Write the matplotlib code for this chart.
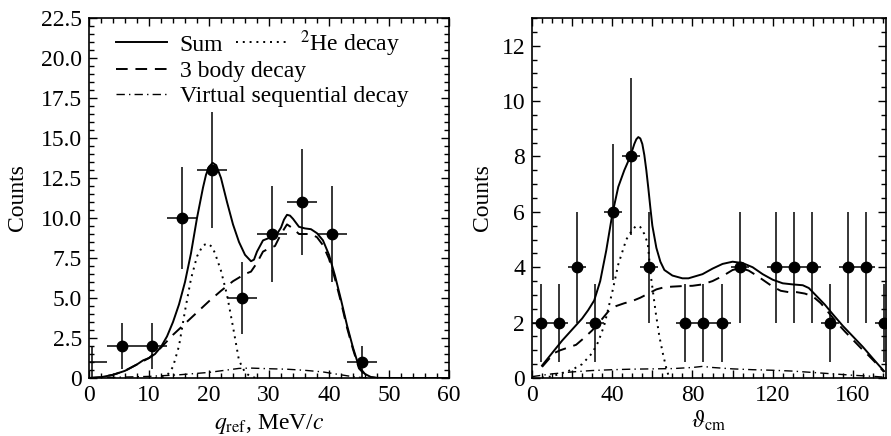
import matplotlib
matplotlib.use("Agg")
import matplotlib.pyplot as plt
from matplotlib.ticker import MultipleLocator, FuncFormatter
from matplotlib.lines import Line2D

plt.rcParams['font.family'] = 'serif'
plt.rcParams['font.serif'] = ['Liberation Serif', 'DejaVu Serif']
plt.rcParams['mathtext.fontset'] = 'stix'
plt.rcParams['font.size'] = 17

# ' Left panel: q_ref spectrum
q_pts = [0.5, 5.5, 10.5, 15.5, 20.5, 25.5, 30.5, 35.5, 40.5, 45.5]
q_counts = [1, 2, 2, 10, 13, 5, 9, 11, 9, 1]
q_err = [1.0, 1.41, 1.41, 3.16, 3.61, 2.24, 3.0, 3.32, 3.0, 1.0]
q_xerr = 2.5

q_sum_x = [0, 2, 4, 6, 8, 9, 10, 11, 12, 13, 14, 15, 16, 17, 18, 19, 19.5, 20, 20.6, 21.2, 22,
           23, 24, 25, 26, 27, 27.5, 28, 29, 30, 31, 32, 32.5, 33, 33.5, 34, 35, 36, 37, 38, 39,
           40, 41, 42, 43, 44, 45, 46, 47, 48, 50, 60]
q_sum_y = [0, 0.05, 0.2, 0.45, 0.85, 1.1, 1.25, 1.5, 1.95, 2.6, 3.5, 4.6, 6.0, 7.8, 10.0, 11.9,
           12.7, 13.2, 13.45, 13.3, 12.5, 11.0, 9.6, 8.5, 7.7, 7.3, 7.4, 7.9, 8.6, 8.75, 8.8,
           9.4, 9.9, 10.2, 10.15, 9.95, 9.45, 9.35, 9.3, 9.05, 8.6, 7.7, 6.4, 4.9, 3.3, 1.9,
           0.7, 0.25, 0.06, 0.01, 0, 0]

q_3b_x = [0, 2, 4, 6, 8, 10, 12, 13, 14, 16, 18, 20, 22, 24, 26, 27, 28, 29, 30, 31, 32, 33,
          34, 35, 36, 37, 38, 39, 40, 41, 42, 43, 44, 45, 46, 47, 48, 60]
q_3b_y = [0, 0.05, 0.2, 0.45, 0.85, 1.25, 1.9, 2.3, 2.7, 3.4, 4.1, 4.8, 5.45, 6.05, 6.5, 6.65,
          7.2, 7.9, 8.1, 8.25, 9.0, 9.6, 9.35, 9.0, 9.0, 9.0, 8.8, 8.3, 7.45, 6.2, 4.75, 3.15,
          1.8, 0.6, 0.2, 0.05, 0, 0]

q_he_x = [11, 12, 13, 14, 15, 16, 17, 18, 19, 19.8, 20.5, 21, 22, 23, 24, 25, 26, 27, 28]
q_he_y = [0, 0.02, 0.15, 0.7, 2.0, 4.2, 6.2, 7.6, 8.3, 8.4, 8.2, 7.8, 6.7, 5.2, 3.2, 1.1, 0.35,
          0.07, 0]

q_vs_x = [0, 5, 10, 15, 20, 23, 25, 27, 30, 33, 36, 39, 42, 44, 46, 60]
q_vs_y = [0, 0.05, 0.1, 0.2, 0.35, 0.5, 0.6, 0.62, 0.58, 0.55, 0.48, 0.38, 0.2, 0.08, 0.01, 0]

# ' Right panel: theta_cm spectrum
t_pts = [4.5, 13.5, 22.5, 31.5, 40.5, 49.5, 58.5, 76.5, 85.5, 94.5, 103.5, 121.5, 130.5,
         139.5, 148.5, 157.5, 166.5, 175.5]
t_counts = [2, 2, 4, 2, 6, 8, 4, 2, 2, 2, 4, 4, 4, 4, 2, 4, 4, 2]
t_err = [1.41, 1.41, 2.0, 1.41, 2.45, 2.83, 2.0, 1.41, 1.41, 1.41, 2.0, 2.0, 2.0, 2.0, 1.41,
         2.0, 2.0, 1.41]
t_xerr = 4.5

t_sum_x = [5, 10, 15, 20, 25, 28, 31, 34, 37, 40, 43, 46, 49, 51, 52, 53, 54, 55, 56, 57, 58,
           59, 60, 62, 64, 66, 70, 75, 78, 85, 90, 95, 100, 105, 110, 115, 120, 125, 130, 135,
           138, 142, 146, 150, 155, 160, 165, 170, 175.5]
t_sum_y = [0.45, 0.9, 1.35, 1.75, 2.15, 2.45, 2.8, 3.5, 4.6, 5.9, 6.9, 7.5, 8.0, 8.45, 8.62,
           8.7, 8.65, 8.45, 8.05, 7.5, 6.85, 6.15, 5.5, 4.7, 4.2, 3.9, 3.7, 3.6, 3.6, 3.75,
           3.95, 4.12, 4.2, 4.15, 4.0, 3.75, 3.55, 3.42, 3.38, 3.35, 3.25, 2.95, 2.65, 2.3,
           1.88, 1.5, 1.12, 0.7, 0.25]

t_3b_x = [5, 8, 11, 14, 18, 22, 26, 30, 34, 38, 42, 46, 50, 54, 58, 62, 66, 70, 75, 80, 85,
          90, 95, 100, 104, 108, 112, 116, 120, 124, 128, 132, 136, 140, 144, 148, 152, 156,
          160, 164, 168, 172, 175.5]
t_3b_y = [0.4, 0.65, 0.9, 1.0, 1.1, 1.2, 1.45, 1.72, 2.05, 2.4, 2.6, 2.7, 2.78, 2.9, 3.05, 3.2,
          3.28, 3.3, 3.32, 3.33, 3.38, 3.5, 3.68, 3.9, 3.97, 3.88, 3.7, 3.5, 3.3, 3.15, 3.1,
          3.1, 3.05, 2.95, 2.7, 2.35, 2.0, 1.68, 1.38, 1.08, 0.8, 0.5, 0.22]

t_he_x = [5, 10, 15, 20, 25, 30, 33, 36, 40, 43, 47, 50, 52, 54, 56, 57.7, 59.3, 61.8, 63.5,
          65.2, 66.8, 68, 70]
t_he_y = [0.01, 0.06, 0.18, 0.3, 0.5, 0.9, 1.3, 1.9, 3.1, 4.1, 5.0, 5.35, 5.5, 5.45, 5.2, 4.86,
          3.66, 2.3, 1.5, 0.9, 0.4, 0.1, 0]

t_vs_x = [0, 5, 10, 20, 30, 40, 50, 60, 70, 80, 85, 90, 100, 110, 120, 130, 140, 150, 160, 170,
          176]
t_vs_y = [0.05, 0.1, 0.15, 0.22, 0.27, 0.3, 0.32, 0.33, 0.34, 0.38, 0.42, 0.38, 0.33, 0.3, 0.28,
          0.25, 0.2, 0.15, 0.1, 0.06, 0.03]

LW = 1.4
DOT = (0, (1, 2.5))
DASH = (0, (6, 4))
DASHDOT = (0, (6, 3, 1, 3))

fig = plt.figure(figsize=(8.91, 4.36), dpi=100)
ax_q = fig.add_axes([0.0999, 0.1330, 0.4040, 0.8257])
ax_t = fig.add_axes([0.5971, 0.1330, 0.3973, 0.8257])


def style_axis(ax):
    ax.tick_params(which='both', direction='in', top=True, right=True, width=1.0)
    ax.tick_params(which='major', length=6, pad=5)
    ax.tick_params(which='minor', length=3.5)
    for s in ax.spines.values():
        s.set_linewidth(1.2)


# ' left
ax_q.plot(q_sum_x, q_sum_y, 'k-', lw=LW)
ax_q.plot(q_he_x, q_he_y, 'k', ls=DOT, lw=LW)
ax_q.plot(q_3b_x, q_3b_y, 'k', ls=DASH, lw=LW)
ax_q.plot(q_vs_x, q_vs_y, 'k', ls=DASHDOT, lw=1.0)
ax_q.errorbar(q_pts[1:], q_counts[1:], yerr=q_err[1:], xerr=q_xerr, fmt='o', color='k',
              ms=7.5, elinewidth=1.1, capsize=0)
# first bin sits on the axis edge, only its bars show
ax_q.errorbar(q_pts[:1], q_counts[:1], yerr=q_err[:1], xerr=q_xerr, fmt='none', ecolor='k',
              elinewidth=1.1, capsize=0)
ax_q.set_xlim(0, 60)
ax_q.set_ylim(0, 22.5)
ax_q.xaxis.set_major_locator(MultipleLocator(10))
ax_q.xaxis.set_minor_locator(MultipleLocator(2))
ax_q.yaxis.set_major_locator(MultipleLocator(2.5))
ax_q.yaxis.set_minor_locator(MultipleLocator(0.5))
ax_q.yaxis.set_major_formatter(FuncFormatter(lambda v, p: '0' if v == 0 else f'{v:.1f}'))
style_axis(ax_q)
ax_q.set_xlabel(r'$q_{\rm ref}$, MeV/$c$')
ax_q.set_ylabel('Counts')
ax_q.xaxis.set_label_coords(0.5, -0.095)
ax_q.yaxis.set_label_coords(-0.17, 0.5)

h_sum = Line2D([], [], color='k', lw=LW)
h_he = Line2D([], [], color='k', ls=DOT, lw=LW)
h_3b = Line2D([], [], color='k', ls=DASH, lw=LW)
h_vs = Line2D([], [], color='k', ls=DASHDOT, lw=1.0)
leg1 = ax_q.legend([h_sum, h_he], ['Sum', r'$^{2}$He decay'], ncol=2, loc='center left',
                   bbox_to_anchor=(0.075, 0.93), frameon=False, borderpad=0,
                   borderaxespad=0, handlelength=2.15, handletextpad=0.55, columnspacing=0.55)
ax_q.add_artist(leg1)
ax_q.legend([h_3b, h_vs], ['3 body decay', 'Virtual sequential decay'], loc='center left',
            bbox_to_anchor=(0.075, 0.817), frameon=False, borderpad=0, borderaxespad=0,
            handlelength=2.15, handletextpad=0.55, labelspacing=0.12)

# ' right
ax_t.plot(t_sum_x, t_sum_y, 'k-', lw=LW)
ax_t.plot(t_he_x, t_he_y, 'k', ls=DOT, lw=LW)
ax_t.plot(t_3b_x, t_3b_y, 'k', ls=DASH, lw=LW)
ax_t.plot(t_vs_x, t_vs_y, 'k', ls=DASHDOT, lw=1.0)
ax_t.errorbar(t_pts, t_counts, yerr=t_err, xerr=t_xerr, fmt='o', color='k',
              ms=7.5, elinewidth=1.1, capsize=0)
ax_t.set_xlim(0, 176.5)
ax_t.set_ylim(0, 13)
ax_t.xaxis.set_major_locator(MultipleLocator(20))
ax_t.xaxis.set_minor_locator(MultipleLocator(5))
ax_t.xaxis.set_major_formatter(FuncFormatter(lambda v, p: f'{v:.0f}' if round(v) % 40 == 0 else ''))
ax_t.yaxis.set_major_locator(MultipleLocator(2))
ax_t.yaxis.set_minor_locator(MultipleLocator(0.5))
style_axis(ax_t)
ax_t.set_xlabel(r'$\vartheta_{\rm cm}$')
ax_t.set_ylabel('Counts')
ax_t.xaxis.set_label_coords(0.5, -0.085)
ax_t.yaxis.set_label_coords(-0.11, 0.5)

fig.savefig('out.png', dpi=100)
